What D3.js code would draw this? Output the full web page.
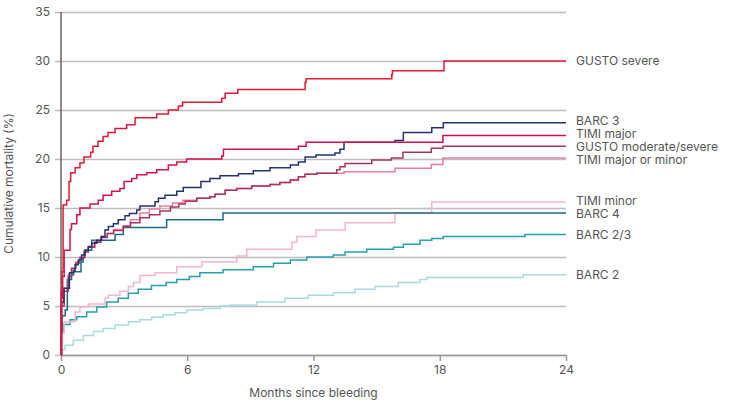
<!DOCTYPE html>
<html>
<head>
<meta charset="utf-8">
<script src="https://cdn.jsdelivr.net/npm/d3@7"></script>
<style>
  body { margin: 0; background: #fff; }
  text { font-family: Inter, "Open Sans", sans-serif; fill: #555; }
</style>
</head>
<body>
<div id="chart"></div>
<script>
// series values: [months, cumulative mortality %]
const gustoSevere = [[0,0],[0.01,6.5],[0.05,8.5],[0.1,15.3],[0.27,15.8],[0.38,17.7],[0.46,18.6],[0.67,19.1],[0.9,19.6],[1.09,20.2],[1.41,20.7],[1.52,21.3],[1.76,21.8],[2.0,22.3],[2.23,22.7],[2.57,23.1],[3.12,23.5],[3.52,24.2],[4.55,24.6],[5.1,25.0],[5.58,25.4],[5.78,25.8],[7.64,26.2],[7.8,26.7],[8.4,27.1],[11.6,27.8],[11.65,28.2],[15.72,28.6],[15.75,29.0],[18.2,30.0],[24,30.0]];
const timiMajor = [[0,0],[0.03,5.8],[0.08,8],[0.15,10.7],[0.43,12.8],[0.5,13.4],[0.75,14.3],[0.9,15.0],[1.38,15.4],[1.77,15.8],[2.0,16.3],[2.41,16.7],[2.8,17.0],[3.0,17.7],[3.36,18.0],[3.6,18.4],[4.07,18.6],[4.55,18.9],[5.1,19.4],[5.5,19.7],[5.97,20.0],[7.64,20.3],[7.72,21.0],[11.28,21.3],[11.65,21.7],[18.15,22.4],[24,22.4]];
const barc3 = [[0,0],[0.02,5.4],[0.14,6.8],[0.4,8.4],[0.59,8.6],[0.67,9.2],[0.82,9.7],[0.98,10.2],[1.14,10.7],[1.3,11.05],[1.46,11.4],[1.7,11.7],[1.93,12.1],[2.09,12.75],[2.25,13.1],[2.49,13.4],[2.72,13.8],[3.04,14.2],[3.25,14.45],[3.6,14.8],[3.75,15.2],[4.47,15.65],[4.63,16.0],[4.94,16.3],[5.5,16.7],[5.81,17.1],[6.65,17.7],[7.08,18.0],[7.56,18.3],[8.43,18.5],[9.14,18.8],[9.93,19.1],[10.9,19.4],[11.28,19.7],[11.6,20.2],[12.12,20.4],[13.02,20.6],[13.26,21.0],[13.45,21.7],[15.87,21.9],[16.27,22.7],[17.62,23.2],[18.17,23.7],[24,23.7]];
const gustoModSevere = [[0,0],[0.02,5.0],[0.15,6.5],[0.35,8.0],[0.5,8.8],[0.7,9.4],[0.9,9.9],[1.1,10.5],[1.3,11.0],[1.6,11.5],[1.9,12.0],[2.2,12.4],[2.5,12.7],[2.96,13.1],[3.3,13.5],[3.75,14.0],[4.2,14.3],[4.7,14.7],[5.2,15.1],[5.6,15.4],[5.9,15.7],[6.45,16.0],[7.08,16.15],[7.32,16.4],[7.8,16.8],[8.35,17.0],[9.06,17.25],[9.93,17.4],[10.4,17.6],[10.9,17.85],[11.28,18.2],[11.6,18.45],[12.15,18.55],[13.1,18.9],[13.26,19.2],[13.5,19.55],[14.77,19.9],[15.7,20.1],[16.25,20.7],[17.6,21.1],[18.15,21.3],[24,21.3]];
const timiMajorMinor = [[0,0],[0.02,5.3],[0.15,6.8],[0.35,8.2],[0.5,8.9],[0.7,9.5],[0.9,10.0],[1.1,10.6],[1.3,11.1],[1.6,11.6],[1.9,12.1],[2.2,12.4],[2.5,12.8],[2.96,13.2],[3.3,13.8],[3.75,14.5],[4.2,14.9],[4.7,15.2],[5.3,15.5],[5.8,15.8],[6.45,16.0],[7.08,16.15],[7.32,16.4],[7.8,16.8],[8.35,17.0],[9.06,17.25],[9.93,17.4],[10.4,17.6],[10.9,17.85],[11.28,18.2],[11.6,18.45],[12.15,18.55],[13.45,18.7],[15.87,19.05],[17.6,19.45],[18.15,20.1],[24,20.1]];
const timiMinor = [[0,0],[0.01,2.2],[0.15,3.4],[0.67,4.4],[0.9,4.9],[1.3,5.2],[2.09,5.8],[2.25,6.1],[2.8,6.5],[3.2,7.0],[3.44,7.4],[3.75,8.1],[4.47,8.4],[5.5,9.0],[6.69,9.5],[8.35,10.1],[8.83,10.8],[10.97,11.5],[11.2,12.1],[12.12,12.75],[13.5,13.5],[15.87,14.5],[17.62,15.6],[24,15.6]];
const barc4 = [[0,0],[0.01,2.5],[0.05,4.0],[0.2,4.6],[0.3,7.7],[0.5,8.2],[0.6,8.5],[0.95,9.5],[1.05,10.0],[1.14,10.7],[1.46,11.7],[2.57,12.3],[2.96,13.0],[5.02,13.8],[7.7,14.5],[24,14.5]];
const barc23 = [[0,0],[0.01,2.4],[0.1,3.1],[0.43,3.6],[0.75,3.9],[1.22,4.4],[1.7,4.9],[2.17,5.4],[2.72,5.8],[3.2,6.3],[3.67,6.7],[4.3,7.1],[5.0,7.4],[5.5,7.7],[6.1,8.0],[6.6,8.4],[7.7,8.7],[9.14,9.0],[10.1,9.35],[10.9,9.7],[11.68,10.0],[12.94,10.2],[13.5,10.5],[14.53,10.8],[15.8,11.0],[16.27,11.3],[17.06,11.7],[17.62,11.9],[18.17,12.1],[22.05,12.3],[24,12.3]];
const barc2 = [[0,0],[0.05,0.5],[0.19,1.0],[0.58,1.5],[1.06,2.0],[1.54,2.4],[2.0,2.7],[2.57,3.06],[3.2,3.4],[3.75,3.6],[4.31,3.85],[4.86,4.1],[5.42,4.3],[5.97,4.6],[6.76,4.75],[7.56,5.0],[8.03,5.1],[9.3,5.4],[10.65,5.8],[11.75,6.1],[12.94,6.35],[13.97,6.7],[14.92,7.0],[16.03,7.4],[17.06,7.7],[17.38,7.9],[21.97,8.2],[24,8.2]];

const seriesNames = ["BARC 2", "BARC 2/3", "TIMI minor", "BARC 4", "TIMI major or minor", "GUSTO moderate/severe", "BARC 3", "TIMI major", "GUSTO severe"];
const seriesValues = [barc2, barc23, timiMinor, barc4, timiMajorMinor, gustoModSevere, barc3, timiMajor, gustoSevere];
const xTicks = [0, 6, 12, 18, 24];
const yTicks = [0, 5, 10, 15, 20, 25, 30, 35];

const colors = {
  "BARC 2": "#a6dbe0",
  "BARC 2/3": "#2a9eac",
  "TIMI minor": "#f6b6ca",
  "BARC 4": "#1b6a85",
  "TIMI major or minor": "#ec7c9c",
  "GUSTO moderate/severe": "#a8355f",
  "BARC 3": "#233473",
  "TIMI major": "#d6104a",
  "GUSTO severe": "#e31837"
};

const margin = { top: 12, right: 163, bottom: 53, left: 61 };
const width = 729 - margin.left - margin.right;
const height = 408 - margin.top - margin.bottom;

const svg = d3.select("#chart")
  .append("svg")
  .attr("width", 729)
  .attr("height", 408)
  .append("g")
  .attr("transform", `translate(${margin.left},${margin.top})`);

const x = d3.scaleLinear().domain([0, 24]).range([0, width]);
const y = d3.scaleLinear().domain([0, 35]).range([height, 0]);

// rejilla horizontal con marcas a la izquierda
const yAxis = svg.append("g")
  .call(d3.axisLeft(y).tickValues(yTicks).tickSize(-width - 6).tickPadding(5).tickSizeOuter(0))
  .attr("transform", "translate(-6,0)");
yAxis.select(".domain").remove();
yAxis.selectAll("line").attr("stroke", "#bdbdbd").attr("stroke-width", 1.5)
  .attr("x1", 0).attr("x2", width + 6);
yAxis.selectAll("text").attr("font-size", 12).style("fill", "#555");

// eje x
const xAxis = svg.append("g")
  .attr("transform", `translate(0,${height})`)
  .call(d3.axisBottom(x).tickValues(xTicks).tickSize(6).tickPadding(4).tickSizeOuter(0));
xAxis.select(".domain").attr("stroke", "#999").attr("stroke-width", 1.5);
xAxis.selectAll("line").attr("stroke", "#999").attr("stroke-width", 1.5);
xAxis.selectAll("text").attr("font-size", 12).style("fill", "#555");

// eje y vertical
svg.append("line")
  .attr("x1", 0).attr("x2", 0)
  .attr("y1", 0).attr("y2", height)
  .attr("stroke", "#666").attr("stroke-width", 1.5);

const line = d3.line()
  .x(d => x(d[0]))
  .y(d => y(d[1]))
  .curve(d3.curveStepAfter);

seriesNames.forEach((name, i) => {
  svg.append("path")
    .datum(seriesValues[i])
    .attr("fill", "none")
    .attr("stroke", colors[name])
    .attr("stroke-width", 1.5)
    .attr("d", line);
});

// etiquetas al final de cada línea, separadas para que no se pisen
const gap = 13;
const labels = seriesNames.map((name, i) => {
  const vals = seriesValues[i];
  return { name, y: y(vals[vals.length - 1][1]) };
}).sort((a, b) => a.y - b.y);

let clusters = labels.map(l => ({ items: [l], center: l.y }));
let moved = true;
while (moved) {
  moved = false;
  for (let i = 1; i < clusters.length; i++) {
    const a = clusters[i - 1], b = clusters[i];
    const aBottom = a.center + (a.items.length - 1) * gap / 2;
    const bTop = b.center - (b.items.length - 1) * gap / 2;
    if (bTop - aBottom < gap) {
      const items = a.items.concat(b.items);
      const center = d3.mean(items, d => d.y);
      clusters.splice(i - 1, 2, { items, center });
      moved = true;
      break;
    }
  }
}
clusters.forEach(c => {
  c.items.forEach((l, k) => { l.pos = c.center + (k - (c.items.length - 1) / 2) * gap; });
});

svg.selectAll(".end-label")
  .data(labels)
  .enter()
  .append("text")
  .attr("class", "end-label")
  .attr("x", x(24) + 10)
  .attr("y", d => d.pos)
  .attr("dy", "0.35em")
  .attr("font-size", 12)
  .text(d => d.name);

svg.append("text")
  .attr("x", width / 2)
  .attr("y", height + 42)
  .attr("text-anchor", "middle")
  .attr("font-size", 12)
  .text("Months since bleeding");

svg.append("text")
  .attr("transform", `translate(${-48},${height / 2}) rotate(-90)`)
  .attr("text-anchor", "middle")
  .attr("font-size", 12)
  .text("Cumulative mortality (%)");
</script>
</body>
</html>
